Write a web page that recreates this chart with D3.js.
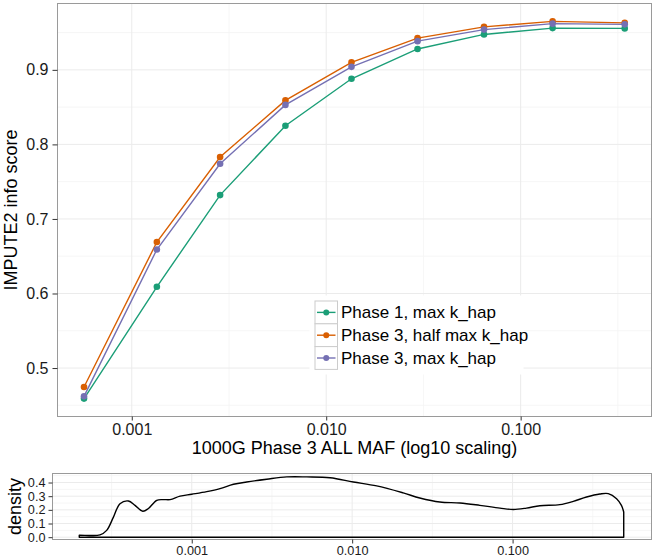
<!DOCTYPE html>
<html><head><meta charset="utf-8">
<script src="https://cdn.jsdelivr.net/npm/d3@7/dist/d3.min.js"></script>
<style>body{margin:0;background:#fff}svg{display:block}text{font-family:"Liberation Sans",Arial,sans-serif}</style>
</head><body>
<script>
const mafBins = [0.000568, 0.001346, 0.002847, 0.00617, 0.01349, 0.0295, 0.0648, 0.146, 0.343];
const seriesNames = ["Phase 1, max k_hap", "Phase 3, half max k_hap", "Phase 3, max k_hap"];
const seriesColors = ["#1B9E77", "#D95F02", "#7570B3"];
const phase1Max = [0.459, 0.609, 0.732, 0.825, 0.888, 0.928, 0.9475, 0.956, 0.9556];
const phase3Half = [0.4745, 0.669, 0.783, 0.859, 0.910, 0.9425, 0.9577, 0.965, 0.963];
const phase3Max = [0.462, 0.659, 0.774, 0.853, 0.904, 0.9385, 0.954, 0.962, 0.961];
const xTicks = [0.001, 0.01, 0.1];
const xTickLabels = ["0.001", "0.010", "0.100"];
const yTicks = [0.5, 0.6, 0.7, 0.8, 0.9];
const densTicks = [0, 0.1, 0.2, 0.3, 0.4];
const densMaf = [0.000199,0.000232,0.000268,0.000295,0.000325,0.000357,0.000403,0.000443,0.000495,0.000537,0.000605,0.000666,0.000733,0.000846,0.001,0.00124,0.0015,0.00182,0.0022,0.00293,0.00391,0.00521,0.00728,0.01017,0.01422,0.0208,0.0264,0.0352,0.047,0.0625,0.0834,0.101,0.122,0.148,0.197,0.239,0.289,0.35,0.395,0.445,0.477,0.493];
const densVal = [0.015,0.012,0.017,0.05,0.147,0.245,0.265,0.233,0.19,0.21,0.27,0.275,0.275,0.30,0.314,0.333,0.355,0.387,0.404,0.424,0.441,0.441,0.435,0.404,0.375,0.324,0.287,0.257,0.25,0.233,0.213,0.203,0.213,0.23,0.238,0.262,0.294,0.316,0.319,0.282,0.233,0.184];

const W = 655, H = 558;
const FONT = "Liberation Sans, Arial, sans-serif";
const svg = d3.select("body").append("svg").attr("width", W).attr("height", H);

// ---------- main panel ----------
const P = {l: 57.5, r: 651.5, t: 3.5, b: 416.5};
const x = d3.scaleLog().domain([Math.pow(10, -3.382), Math.pow(10, -0.327)]).range([P.l, P.r]);
const y = d3.scaleLinear().domain([0.435, 0.989]).range([P.b, P.t]);

const g = svg.append("g");
const minorX = [Math.pow(10, -2.5), Math.pow(10, -1.5), Math.pow(10, -0.5)];
const minorY = [0.45, 0.55, 0.65, 0.75, 0.85, 0.95];
g.selectAll(".mgx").data(minorX).join("line").attr("x1", d => x(d)).attr("x2", d => x(d)).attr("y1", P.t).attr("y2", P.b).attr("stroke", "#f4f4f4").attr("stroke-width", 0.8);
g.selectAll(".mgy").data(minorY).join("line").attr("y1", d => y(d)).attr("y2", d => y(d)).attr("x1", P.l).attr("x2", P.r).attr("stroke", "#f4f4f4").attr("stroke-width", 0.8);
g.selectAll(".gx").data(xTicks).join("line").attr("x1", d => x(d)).attr("x2", d => x(d)).attr("y1", P.t).attr("y2", P.b).attr("stroke", "#ebebeb").attr("stroke-width", 1);
g.selectAll(".gy").data(yTicks).join("line").attr("y1", d => y(d)).attr("y2", d => y(d)).attr("x1", P.l).attr("x2", P.r).attr("stroke", "#ebebeb").attr("stroke-width", 1);

const allSeries = [phase1Max, phase3Half, phase3Max];
const line = d3.line().x((d, i) => x(mafBins[i])).y(d => y(d));
allSeries.forEach((s, k) => {
  g.append("path").datum(s).attr("d", line).attr("fill", "none").attr("stroke", seriesColors[k]).attr("stroke-width", 1.4);
  g.selectAll(null).data(s).join("circle").attr("cx", (d, i) => x(mafBins[i])).attr("cy", d => y(d)).attr("r", 3.3).attr("fill", seriesColors[k]);
});

g.append("rect").attr("x", P.l).attr("y", P.t).attr("width", P.r - P.l).attr("height", P.b - P.t).attr("fill", "none").attr("stroke", "#9a9a9a").attr("stroke-width", 1);

// axes
const xAxis = d3.axisBottom(x).tickValues(xTicks).tickFormat((d, i) => xTickLabels[i]).tickSize(4).tickPadding(3);
const xa = svg.append("g").attr("transform", `translate(0,${P.b})`).call(xAxis);
xa.select(".domain").remove();
xa.selectAll("line").attr("stroke", "#333");
xa.selectAll("text").attr("font-size", 16).attr("fill", "#1a1a1a").attr("font-family", FONT);
const yAxis = d3.axisLeft(y).tickValues(yTicks).tickFormat(d3.format(".1f")).tickSize(5).tickPadding(4);
const ya = svg.append("g").attr("transform", `translate(${P.l},0)`).call(yAxis);
ya.select(".domain").remove();
ya.selectAll("line").attr("stroke", "#333");
ya.selectAll("text").attr("font-size", 16).attr("fill", "#1a1a1a").attr("font-family", FONT);

svg.append("text").attr("x", (P.l + P.r) / 2).attr("y", 454).attr("text-anchor", "middle").attr("font-size", 18).attr("fill", "#000").text("1000G Phase 3 ALL MAF (log10 scaling)");
svg.append("text").attr("transform", `translate(16.5,${(P.t + P.b) / 2}) rotate(-90)`).attr("text-anchor", "middle").attr("font-size", 18).attr("fill", "#000").text("IMPUTE2 info score");

// legend
const L = {x: 309.5, y: 295.5, w: 214, h: 79};
const lg = svg.append("g");
lg.append("rect").attr("x", L.x).attr("y", L.y).attr("width", L.w).attr("height", L.h).attr("fill", "#fff");
seriesNames.forEach((nm, k) => {
  const ky = 301 + k * 22.8;
  lg.append("rect").attr("x", 315).attr("y", ky).attr("width", 22.5).attr("height", 22.8).attr("fill", "#fff").attr("stroke", "#cccccc").attr("stroke-width", 1);
  lg.append("line").attr("x1", 317).attr("x2", 335.5).attr("y1", ky + 11.4).attr("y2", ky + 11.4).attr("stroke", seriesColors[k]).attr("stroke-width", 1.4);
  lg.append("circle").attr("cx", 326.25).attr("cy", ky + 11.4).attr("r", 3).attr("fill", seriesColors[k]);
  lg.append("text").attr("x", 341).attr("y", ky + 17).attr("font-size", 17).attr("fill", "#000").text(nm);
});

// ---------- density panel ----------
const D = {l: 52.5, r: 651.5, t: 473.5, b: 539.5};
const x2 = d3.scaleLog().domain([Math.pow(10, -3.868), Math.pow(10, -0.134)]).range([D.l, D.r]);
const y2 = d3.scaleLinear().domain([-0.017, 0.466]).range([D.b, D.t]);
const g2 = svg.append("g");
const dMinorY = [0.05, 0.15, 0.25, 0.35, 0.45];
const dMinorX = [Math.pow(10, -3.5), Math.pow(10, -2.5), Math.pow(10, -1.5), Math.pow(10, -0.5)];
g2.selectAll(".a").data(dMinorX).join("line").attr("x1", d => x2(d)).attr("x2", d => x2(d)).attr("y1", D.t).attr("y2", D.b).attr("stroke", "#f4f4f4").attr("stroke-width", 0.8);
g2.selectAll(".b").data(dMinorY).join("line").attr("y1", d => y2(d)).attr("y2", d => y2(d)).attr("x1", D.l).attr("x2", D.r).attr("stroke", "#f4f4f4").attr("stroke-width", 0.8);
g2.selectAll(".c").data(xTicks).join("line").attr("x1", d => x2(d)).attr("x2", d => x2(d)).attr("y1", D.t).attr("y2", D.b).attr("stroke", "#ebebeb").attr("stroke-width", 1);
g2.selectAll(".d").data(densTicks).join("line").attr("y1", d => y2(d)).attr("y2", d => y2(d)).attr("x1", D.l).attr("x2", D.r).attr("stroke", "#ebebeb").attr("stroke-width", 1);

const densPts = densMaf.map((m, i) => [m, densVal[i]]);
const curvePath = d3.line().x(d => x2(d[0])).y(d => y2(d[1])).curve(d3.curveCatmullRom.alpha(0.5))(densPts);
const last = densPts[densPts.length - 1], first = densPts[0];
const closing = `L${x2(last[0])},${y2(0)}L${x2(first[0])},${y2(0)}Z`;
g2.append("path").attr("d", curvePath + closing)
  .attr("fill", "none").attr("stroke", "#000").attr("stroke-width", 1.4).attr("stroke-linejoin", "round");
g2.append("rect").attr("x", D.l).attr("y", D.t).attr("width", D.r - D.l).attr("height", D.b - D.t).attr("fill", "none").attr("stroke", "#9a9a9a").attr("stroke-width", 1);

const xa2 = svg.append("g").attr("transform", `translate(0,${D.b})`).call(d3.axisBottom(x2).tickValues(xTicks).tickFormat((d, i) => xTickLabels[i]).tickSize(4).tickPadding(2));
xa2.select(".domain").remove();
xa2.selectAll("line").attr("stroke", "#333");
xa2.selectAll("text").attr("font-size", 12.7).attr("fill", "#1a1a1a").attr("font-family", FONT);
const ya2 = svg.append("g").attr("transform", `translate(${D.l},0)`).call(d3.axisLeft(y2).tickValues(densTicks).tickFormat(d3.format(".1f")).tickSize(4).tickPadding(3));
ya2.select(".domain").remove();
ya2.selectAll("line").attr("stroke", "#333");
ya2.selectAll("text").attr("font-size", 12.7).attr("fill", "#1a1a1a").attr("font-family", FONT);
svg.append("text").attr("transform", `translate(20.5,${(D.t + D.b) / 2}) rotate(-90)`).attr("text-anchor", "middle").attr("font-size", 18).attr("fill", "#000").text("density");
</script>
</body></html>
